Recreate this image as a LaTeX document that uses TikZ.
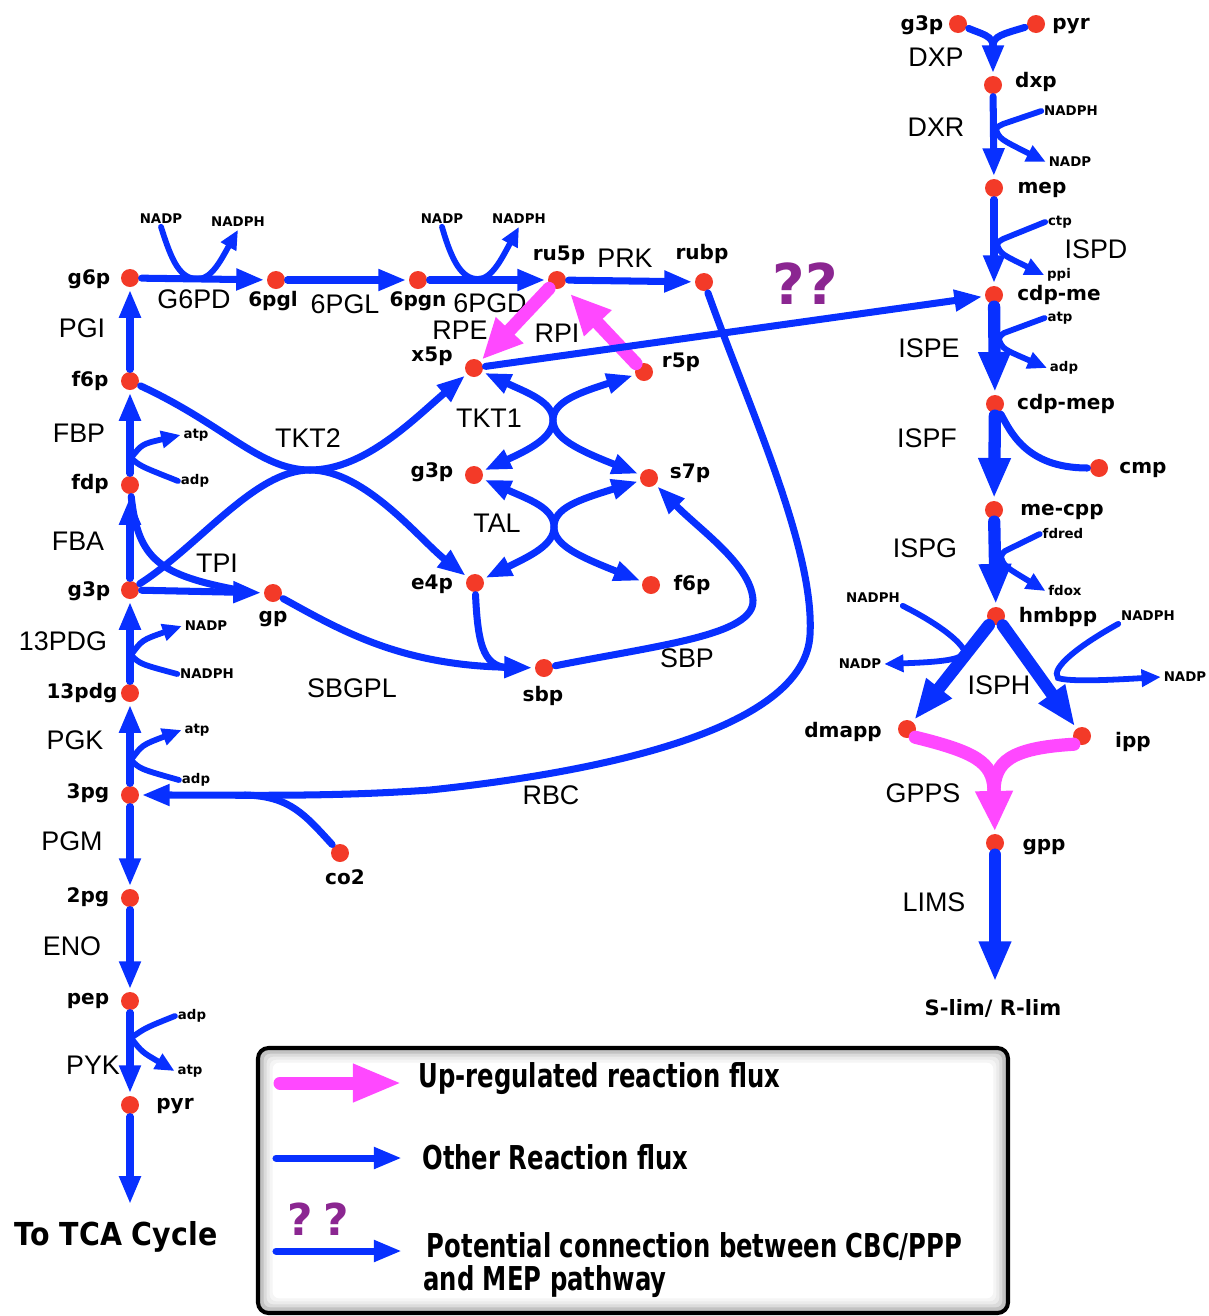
\documentclass[tikz,border=0pt]{standalone}
\usepackage{fontspec}
\setmainfont{DejaVu Sans}
\newfontfamily\enzfont{Liberation Sans}
\newfontfamily\legfont[FakeStretch=0.74]{DejaVu Sans}
\newfontfamily\tcafont[FakeStretch=0.9]{DejaVu Sans}
\usepackage{xcolor}
\usetikzlibrary{arrows.meta,calc}

\definecolor{fluxblue}{RGB}{8,48,255}
\definecolor{metred}{RGB}{243,58,40}
\definecolor{uppink}{RGB}{255,72,255}
\definecolor{qpurple}{RGB}{139,38,145}

\tikzset{
  met/.style={circle,fill=metred,inner sep=0pt,minimum size=0.36cm,outer sep=1.5pt},
  mlab/.style={font=\bfseries\fontsize{11.4}{13}\selectfont,inner sep=0pt},
  enz/.style={font=\enzfont\fontsize{15.3}{17}\selectfont,inner sep=0pt},
  cof/.style={font=\bfseries\fontsize{7.6}{9}\selectfont,inner sep=1.5pt},
  fline/.style={draw=fluxblue,line width=4pt,line cap=round},
  rxn/.style={fline,-{Triangle[length=16pt,width=11.5pt]}},
  rxnboth/.style={fline,{Triangle[length=15pt,width=11pt]}-{Triangle[length=15pt,width=11pt]}},
  cline/.style={draw=fluxblue,line width=3.3pt,line cap=round},
  carr/.style={cline,-{Triangle[length=11pt,width=9.5pt]}},
  thk/.style={draw=fluxblue,line width=7pt,line cap=round,-{Triangle[length=23pt,width=17pt]}},
  upline/.style={draw=uppink,line width=7.5pt,line cap=round},
  uprxn/.style={upline,-{Triangle[length=23pt,width=20pt]}},
  legup/.style={draw=uppink,line width=7.4pt,line cap=round,-{Triangle[length=28pt,width=20pt]}},
  qq/.style={font=\bfseries\fontsize{32}{34}\selectfont,text=qpurple,inner sep=0pt},
  legtxt/.style={font=\legfont\bfseries\fontsize{18.7}{18.7}\selectfont,inner sep=0pt,anchor=west,align=left},
  tca/.style={font=\tcafont\bfseries\fontsize{18}{20}\selectfont,inner sep=0pt}
}

\begin{document}
\begin{tikzpicture}[x=0.02cm,y=-0.02cm]
  \useasboundingbox (0,0) rectangle (1208,1316);

  % metabolites
  \foreach \nm/\x/\y in {g6p/130/278, f6p/130/381, fdp/130/485, g3p/130/590, pdg/130/693,
      pga/130/795, pgb/130/898, pep/130/1001, pyr/130/1105,
      pgl/276/280, pgn/418/280, ru5p/557/280, rubp/704/282,
      x5p/474/368, r5p/644/372, g3pb/474/475, s7p/649/478, e4p/475/583, f6pb/651/585,
      gp/273/593, sbp/544/668, co2/340/853,
      mg3p/958/24, mpyr/1036/24, dxp/993/85, mep/994/188, cdpme/994/295, cdpmep/995/404,
      cmp/1099/468, mecpp/994/510, hmbpp/996/616, dmapp/907/729, ipp/1082/736, gpp/995/843}
    \node[met] (\nm) at (\x,\y) {};

  \foreach \x/\y/\t [count=\i] in {89/279/g6p, 90/381/f6p, 90/484/fdp, 89/591/g3p, 82/693/13pdg,
      88/793/3pg, 88/897/2pg, 88/1001/pep, 175/1106/pyr,
      273/301/6pgl, 418/301/6pgn, 559/255/ru5p, 702/254/rubp, 432/356/x5p, 681/362/r5p,
      432/472/g3p, 690/473/s7p, 432/584/e4p, 692/585/f6p, 273/619/gp, 543/696/sbp, 345/877/co2,
      922/25/g3p, 1071/26/pyr, 1036/82/dxp, 1042/190/mep, 1059/295/cdp-me, 1066/404/cdp-mep,
      1143/470/cmp, 1062/512/me-cpp, 1058/617/hmbpp, 843/732/dmapp, 1133/742/ipp, 1044/847/gpp}
    \node[mlab] (ml\i) at (\x,\y) {\t};

  % enzymes
  \foreach \x/\y/\t [count=\i] in {82/328/PGI, 79/433/FBP, 78/541/FBA, 63/641/13PDG, 75/740/PGK,
      72/841/PGM, 72/946/ENO, 93/1065/PYK, 194/299/G6PD, 345/304/6PGL, 490/303/6PGD, 625/258/PRK,
      460/330/RPE, 557/333/RPI, 489/418/TKT1, 497/523/TAL, 308/438/TKT2, 217/563/TPI,
      352/688/SBGPL, 687/658/SBP, 551/795/RBC, 936/57/DXP, 936/127/DXR, 1096/249/ISPD,
      929/348/ISPE, 927/438/ISPF, 925/548/ISPG, 999/685/ISPH, 923/793/GPPS, 934/902/LIMS}
    \node[enz] (en\i) at (\x,\y) {\t};

  % cofactors
  \node[cof] (g6pdi) at (161,219) {NADP};
  \node[cof] (g6pdo) at (238,222) {NADPH};
  \node[cof] (pgdi) at (442,219) {NADP};
  \node[cof] (pgdo) at (519,219) {NADPH};
  \node[cof] (fbpo) at (196,435) {atp};
  \node[cof] (fbpi) at (195,481) {adp};
  \node[cof] (pdgo) at (206,626) {NADP};
  \node[cof] (pdgi) at (207,674) {NADPH};
  \node[cof] (pgko) at (197,730) {atp};
  \node[cof] (pgki) at (196,780) {adp};
  \node[cof] (pyki) at (192,1016) {adp};
  \node[cof] (pyko) at (190,1071) {atp};
  \node[cof] (dxri) at (1071,111) {NADPH};
  \node[cof] (dxro) at (1070,162) {NADP};
  \node[cof] (ispdi) at (1060,222) {ctp};
  \node[cof] (ispdo) at (1059,275) {ppi};
  \node[cof] (ispei) at (1060,318) {atp};
  \node[cof] (ispeo) at (1064,368) {adp};
  \node[cof] (ispgi) at (1063,534) {fdred};
  \node[cof] (ispgo) at (1065,591) {fdox};
  \node[cof] (isphai) at (873,598) {NADPH};
  \node[cof] (isphao) at (860,664) {NADP};
  \node[cof] (isphbi) at (1148,616) {NADPH};
  \node[cof] (isphbo) at (1185,677) {NADP};

  \coordinate (fbpb) at (131,458);
  \coordinate (pdgb) at (131,655);
  \coordinate (pgkb) at (131,760);
  \coordinate (pykb) at (131,1038);
  \coordinate (dxrb) at (996,130);
  \coordinate (ispdb) at (997,245);
  \coordinate (ispeb) at (999,340);
  \coordinate (ispgb) at (1001,557);
  \coordinate (tkt2) at (310,470);
  \coordinate (tkt1) at (553,420);
  \coordinate (tal) at (554,527);
  \coordinate (sbpin) at (512,668);
  \coordinate (tpiin) at (238,590);
  \coordinate (rbcin) at (245,795);
  \coordinate (dxpj) at (993,46);
  \coordinate (gppj) at (994,790);

  % glycolysis
  \draw[rxn] (f6p) -- (g6p);
  \draw[rxn] (fdp) -- (f6p);
  \draw[rxn] (g3p) -- (fdp);
  \draw[rxn] (pdg) -- (g3p);
  \draw[rxn] (pga) -- (pdg);
  \draw[rxn] (pga) -- (pgb);
  \draw[rxn] (pgb) -- (pep);
  \draw[rxn] (pep) -- (pyr);
  \node[tca] (tca) at (116,1237) {To TCA Cycle};
  \draw[rxn,shorten >=0.34cm] (pyr) -- (pyr |- tca.north);

  \draw[carr] (fbpb) .. controls (142,444) .. (fbpo.west);
  \draw[cline] (fbpb) .. controls (140,466) .. (fbpi.west);
  \draw[carr] (pdgb) .. controls (142,640) .. (pdgo.west);
  \draw[cline] (pdgb) .. controls (140,664) .. (pdgi.west);
  \draw[carr] (pgkb) .. controls (142,745) .. (pgko.west);
  \draw[cline] (pgkb) .. controls (140,769) .. (pgki.west);
  \draw[cline] (pyki.west) .. controls (145,1028) .. (pykb);
  \draw[carr] (pykb) .. controls (142,1052) .. (pyko.west);

  % oxidative PPP
  \draw[rxn] (g6p) -- (pgl);
  \draw[rxn] (pgl) -- (pgn);
  \draw[rxn] (pgn) -- (ru5p);
  \draw[rxn] (ru5p) -- (rubp);
  \draw[carr] (g6pdi.south) .. controls (172,262) and (180,279) .. (198,279) .. controls (212,279) and (222,258) .. (g6pdo.south);
  \draw[carr] (pgdi.south) .. controls (452,262) and (462,279) .. (478,279) .. controls (492,279) and (502,258) .. (pgdo.south);

  % non-oxidative PPP / CBC
  \draw[uprxn] (ru5p) -- (x5p);
  \draw[uprxn,shorten >=0.15cm] (r5p) -- (ru5p);
  \draw[rxn] (f6p) .. controls (225,425) and (260,470) .. (tkt2) .. controls (365,470) and (420,540) .. (e4p);
  \draw[rxn] (g3p) .. controls (200,545) and (255,470) .. (tkt2) .. controls (365,470) and (415,418) .. (x5p);
  \draw[rxnboth] (x5p) .. controls (528,393) and (553,402) .. (tkt1) .. controls (553,438) and (528,450) .. (g3pb);
  \draw[rxnboth] (r5p) .. controls (578,393) and (553,402) .. (tkt1) .. controls (553,438) and (578,450) .. (s7p);
  \draw[rxnboth] (g3pb) .. controls (530,500) and (554,508) .. (tal) .. controls (554,545) and (530,556) .. (e4p);
  \draw[rxnboth] (s7p) .. controls (578,500) and (554,508) .. (tal) .. controls (554,545) and (578,556) .. (f6pb);
  \draw[rxn] (g3p) -- (gp);
  \draw[fline] (fdp) .. controls (138,560) and (160,575) .. (tpiin);
  \draw[rxn] (gp) .. controls (340,630) and (400,665) .. (sbp);
  \draw[fline] (e4p) .. controls (478,650) and (485,668) .. (sbpin);
  \draw[rxn] (sbp) .. controls (660,645) and (755,635) .. (753,600) .. controls (751,565) and (700,530) .. (s7p);
  \draw[rxn] (rubp) .. controls (750,410) and (815,550) .. (810,635) .. controls (805,725) and (620,770) .. (430,790) .. controls (330,797) and (250,795) .. (pga);
  \draw[fline] (co2) .. controls (305,815) and (290,796) .. (rbcin);

  % link to MEP
  \draw[rxn] (x5p) -- (cdpme);
  \node[qq] (qmain) at (805,284) {??};

  % MEP pathway
  \draw[fline] (mg3p) .. controls (982,34) and (993,36) .. (dxpj);
  \draw[fline] (mpyr) .. controls (1003,34) and (993,36) .. (dxpj);
  \draw[rxn] (dxpj) -- (dxp);
  \draw[rxn] (dxp) -- (mep);
  \draw[rxn] (mep) -- (cdpme);
  \draw[thk] (cdpme) -- (cdpmep);
  \draw[thk] (cdpmep) -- (mecpp);
  \draw[thk] (mecpp) -- (hmbpp);
  \draw[fline] (cdpmep) .. controls (1010,430) and (1025,468) .. (cmp);
  \draw[cline] (dxri.west) -- (1003,124) .. controls (997,127) .. (dxrb);
  \draw[carr] (dxrb) .. controls (1000,139) .. (dxro.west);
  \draw[cline] (ispdi.west) -- (1003,239) .. controls (998,242) .. (ispdb);
  \draw[carr] (ispdb) .. controls (1001,254) .. (ispdo.west);
  \draw[cline] (ispei.west) -- (1004,333) .. controls (1000,336) .. (ispeb);
  \draw[carr] (ispeb) .. controls (1003,349) .. (ispeo.west);
  \draw[cline] (ispgi.west) -- (1005,551) .. controls (1002,554) .. (ispgb);
  \draw[carr] (ispgb) .. controls (1004,566) .. (ispgo.west);
  \draw[carr] (isphai.south east) .. controls (935,622) and (960,640) .. (965,652) .. controls (962,660) and (940,662) .. (isphao.east);
  \draw[carr] (isphbi.south west) .. controls (1080,645) and (1050,668) .. (1058,678) .. controls (1070,682) and (1110,680) .. (isphbo.west);
  \draw[thk] (hmbpp) -- (dmapp);
  \draw[thk] (hmbpp) -- (ipp);
  \draw[upline] (dmapp.south east) .. controls (975,752) and (993,762) .. (gppj);
  \draw[upline] (ipp.south west) .. controls (1010,748) and (995,762) .. (gppj);
  \draw[uprxn] (gppj) -- (gpp);
  \node[mlab,font=\bfseries\fontsize{12}{14}\selectfont] (lim) at (993,1008) {S-lim/ R-lim};
  \draw[thk,shorten >=0.34cm] (gpp) -- (gpp |- lim.north);

  % legend
  \foreach \k/\c in {12/4,9/8,6/14,3/24}
    \draw[black!\c,line width=3pt,rounded corners=5pt] ({258+\k},{1048+\k}) rectangle ({1008-\k},{1313-\k});
  \draw[line width=2.3pt,rounded corners=6pt] (258,1048) rectangle (1008,1313);
  \coordinate (lga) at (280,1083);
  \coordinate (lgb) at (402,1083);
  \coordinate (lgc) at (276,1158);
  \coordinate (lgd) at (402,1158);
  \coordinate (lge) at (276,1251);
  \coordinate (lgf) at (402,1251);
  \draw[legup] (lga) -- (lgb);
  \draw[rxn] (lgc) -- (lgd);
  \draw[rxn] (lge) -- (lgf);
  \node[qq,font=\bfseries\fontsize{25}{27}\selectfont] (lq) at (318,1219) {?\hspace{6pt}?};
  \node[legtxt] (lt1) at (418,1079) {Up-regulated reaction flux};
  \node[legtxt] (lt2) at (422,1157) {Other Reaction flux};
  \node[legtxt] (lt3) at (423,1265) {\hspace{2pt}Potential connection between CBC/PPP\\and MEP pathway};
\end{tikzpicture}
\end{document}
